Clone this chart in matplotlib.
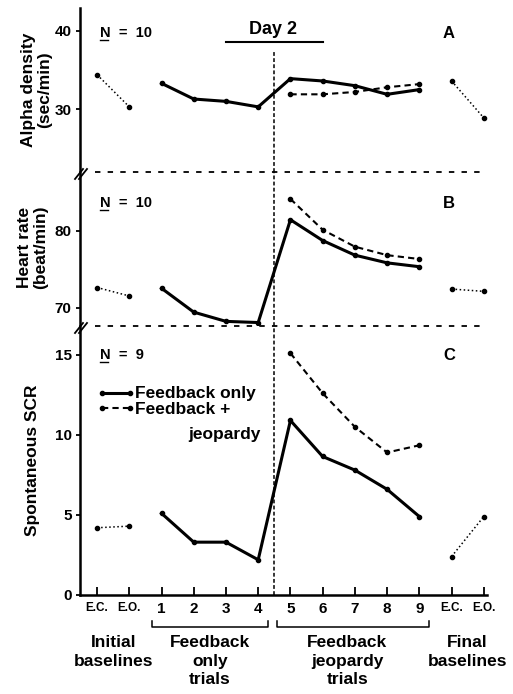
import matplotlib
matplotlib.use("Agg")
import matplotlib.pyplot as plt
from matplotlib.lines import Line2D
import matplotlib.transforms as mtransforms

plt.rcParams['font.family'] = ['Liberation Sans', 'DejaVu Sans']
plt.rcParams['font.weight'] = 'bold'

# ---------------- data ----------------
x_labels = ['E.C.', 'E.O.', '1', '2', '3', '4', '5', '6', '7', '8', '9', 'E.C.', 'E.O.']
x_init = [0, 1]
x_fb = [2, 3, 4, 5, 6, 7, 8, 9, 10]
x_jeop = [6, 7, 8, 9, 10]
x_final = [11, 12]

alpha_init = [34.4, 30.3]
alpha_fb = [33.3, 31.3, 31.0, 30.3, 33.9, 33.6, 33.0, 31.9, 32.5]
alpha_jeop = [31.9, 31.9, 32.2, 32.8, 33.2]
alpha_final = [33.6, 28.9]

hr_init = [72.6, 71.5]
hr_fb = [72.5, 69.4, 68.2, 68.05, 81.4, 78.7, 76.8, 75.8, 75.3]
hr_jeop = [84.1, 80.1, 77.9, 76.8, 76.3]
hr_final = [72.4, 72.1]

scr_init = [4.2, 4.3]
scr_fb = [5.1, 3.3, 3.3, 2.2, 10.9, 8.65, 7.8, 6.6, 4.9]
scr_jeop = [15.1, 12.6, 10.5, 8.9, 9.35]
scr_final = [2.4, 4.9]

panels = [
    dict(init=alpha_init, fb=alpha_fb, jeop=alpha_jeop, final=alpha_final,
         ylim=(22.0, 42.9), yticks=[30, 40], ylabel='Alpha density\n(sec/min)',
         n='N  =  10', letter='A'),
    dict(init=hr_init, fb=hr_fb, jeop=hr_jeop, final=hr_final,
         ylim=(67.6, 87.6), yticks=[70, 80], ylabel='Heart rate\n(beat/min)',
         n='N  =  10', letter='B'),
    dict(init=scr_init, fb=scr_fb, jeop=scr_jeop, final=scr_final,
         ylim=(0, 16.8), yticks=[0, 5, 10, 15], ylabel='Spontaneous SCR',
         n='N  =  9', letter='C'),
]

W_PX, H_PX = 513, 694
fig = plt.figure(figsize=(W_PX / 100, H_PX / 100), dpi=100)


def fx(px):
    return px / W_PX


def fy(py):
    return 1 - py / H_PX


L, R = 80, 487
boxes = [(8, 172), (172, 326), (326, 595)]
axes = []
for (top, bot) in boxes:
    ax = fig.add_axes([fx(L), fy(bot), fx(R - L), (bot - top) / H_PX])
    axes.append(ax)

XL = (-0.53, 12.1)
ylabel_pos = [(37, 90), (33, 247), (33, 460)]
n_pos = [33, 203, 355]
for i, (ax, p) in enumerate(zip(axes, panels)):
    ax.set_xlim(*XL)
    ax.set_ylim(*p['ylim'])
    for s in ['top', 'right']:
        ax.spines[s].set_visible(False)
    ax.spines['left'].set_linewidth(1.8)
    if i < 2:
        ax.spines['bottom'].set_visible(False)
        ax.set_xticks([])
    else:
        ax.spines['bottom'].set_linewidth(1.8)
        ax.set_xticks(range(len(x_labels)))
        ax.set_xticklabels(x_labels)
        for j, t in enumerate(ax.get_xticklabels()):
            t.set_fontsize(8.5 if x_labels[j].startswith('E') else 11)
        ax.tick_params(axis='x', direction='in', length=6, width=1.3, pad=5)
    ax.set_yticks(p['yticks'])
    ax.tick_params(axis='y', direction='out', length=3, width=1.3, labelsize=11, pad=3)

    # baselines (dotted)
    ax.plot(x_init, p['init'], ls=':', lw=1.1, color='black', marker='o', ms=3)
    ax.plot(x_final, p['final'], ls=':', lw=1.1, color='black', marker='o', ms=3)
    # feedback only (solid)
    ax.plot(x_fb, p['fb'], ls='-', lw=2.2, color='black', marker='o', ms=3)
    # feedback + jeopardy (dashed)
    ax.plot(x_jeop, p['jeop'], ls=(0, (3, 2)), lw=1.5, color='black', marker='o', ms=3)

    # vertical divider
    if i == 0:
        ylo, yhi = p['ylim']
        ax.plot([5.5, 5.5], [ylo, 37.3], ls=(0, (2.5, 1.5)), lw=1.1, color='black')
    else:
        ax.axvline(5.5, ls=(0, (2.5, 1.5)), lw=1.1, color='black')

    fig.text(fx(ylabel_pos[i][0]), fy(ylabel_pos[i][1]), p['ylabel'], rotation=90,
             ha='center', va='center', fontsize=12.5, fontweight='bold', linespacing=1.1)

    # N label (N underlined) and panel letter
    py = n_pos[i]
    fig.text(fx(100), fy(py), p['n'], ha='left', va='center', fontsize=10.5, fontweight='bold')
    fig.add_artist(Line2D([fx(100), fx(108)], [fy(py + 7), fy(py + 7)], lw=1.0, color='black'))
    fig.text(fx(449), fy(py), p['letter'], ha='center', va='center', fontsize=12,
             fontweight='bold')

# horizontal separators with axis breaks
for py in [172, 326]:
    fig.add_artist(Line2D([fx(95), fx(485)], [fy(py), fy(py)], ls=(0, (3, 4)),
                          lw=1.3, color='black'))
    for dx in [0, 4]:
        fig.add_artist(Line2D([fx(75 + dx), fx(83 + dx)], [fy(py + 7), fy(py - 3)],
                              lw=1.3, color='black'))

# Day 2
fig.text(fx(273), fy(30), 'Day 2', ha='center', va='center', fontsize=13, fontweight='bold')
axA = axes[0]
bt = mtransforms.blended_transform_factory(axA.transData, fig.transFigure)
axA.plot([4, 7], [fy(42), fy(42)], transform=bt, color='black', lw=1.5, clip_on=False)

# legend in panel C
axC = axes[2]
bc = mtransforms.blended_transform_factory(axC.transData, fig.transFigure)
axC.plot([0.16, 1.03], [fy(393), fy(393)], transform=bc, color='black', lw=2.2,
         marker='o', ms=3, clip_on=False)
axC.plot([0.16, 1.03], [fy(408), fy(408)], transform=bc, color='black', lw=1.5,
         ls=(0, (3, 2)), marker='o', ms=3, clip_on=False)
fig.text(fx(135), fy(393), 'Feedback only', ha='left', va='center', fontsize=12.5,
         fontweight='bold')
fig.text(fx(135), fy(410), 'Feedback +', ha='left', va='center', fontsize=12.5,
         fontweight='bold')
fig.text(fx(188), fy(435), 'jeopardy', ha='left', va='center', fontsize=12.5,
         fontweight='bold')

# brackets under x axis
for (x0, x1) in [(1.71, 5.31), (5.59, 10.31)]:
    axC.plot([x0, x0, x1, x1], [fy(621), fy(627), fy(627), fy(621)], transform=bc,
             color='black', lw=1.1, clip_on=False)

groups = [(0.5, 'Initial\nbaselines'), (3.5, 'Feedback\nonly\ntrials'),
          (7.76, 'Feedback\njeopardy\ntrials'), (11.5, 'Final\nbaselines')]
for gx, gt in groups:
    axC.text(gx, fy(635), gt, transform=bc, ha='center', va='top', fontsize=12.5,
             fontweight='bold', linespacing=1.3)

fig.savefig('out.png', dpi=100)
